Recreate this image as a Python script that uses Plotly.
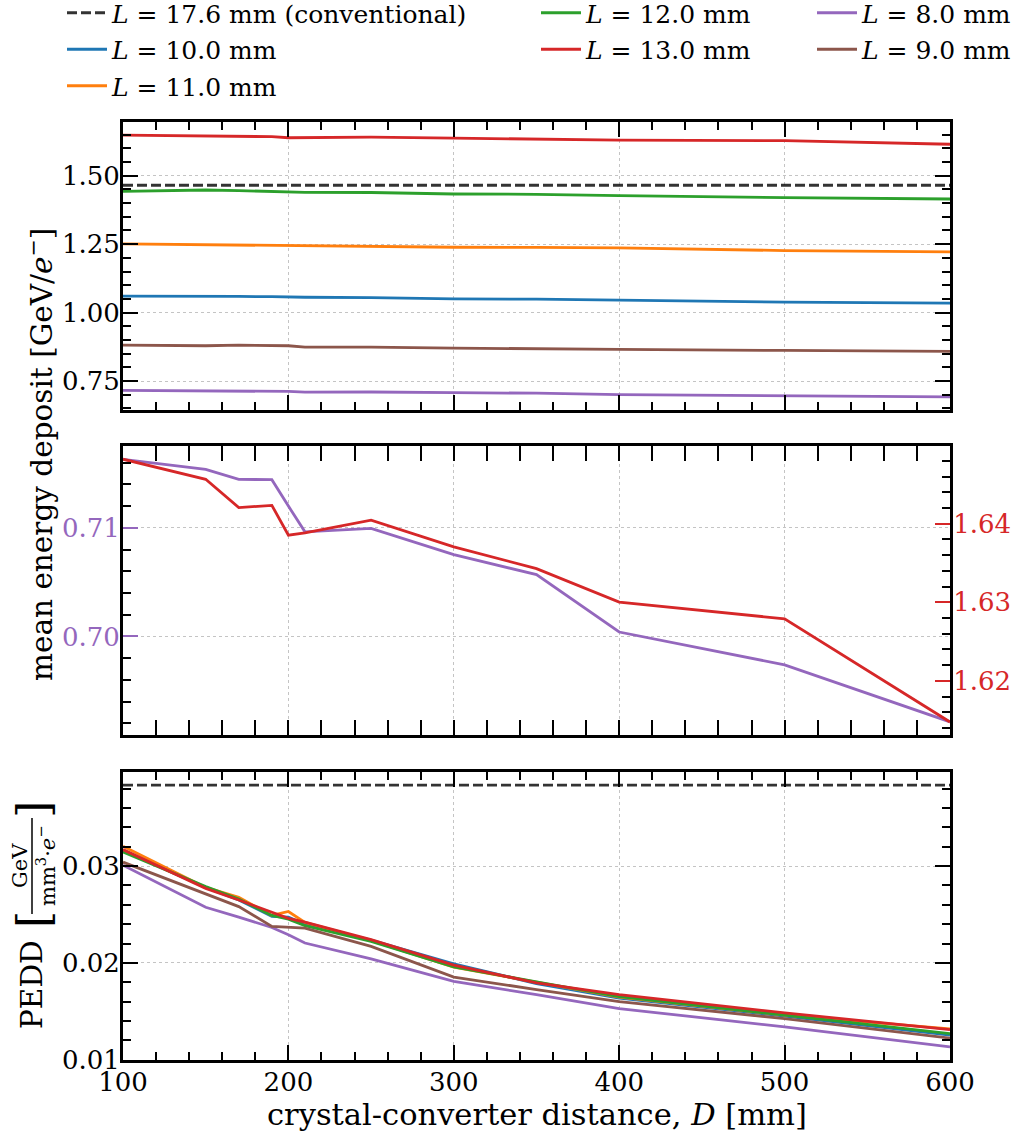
import plotly.graph_objects as go

# ---------------- data ----------------
D = [100, 150, 170, 190, 200, 210, 250, 300, 350, 400, 500, 600]

E_conv = 1.465
E_L10 = [1.0600, 1.0612, 1.0590, 1.0580, 1.0563, 1.0560, 1.0550, 1.0503, 1.0490, 1.0454, 1.0381, 1.0345]
E_L11 = [1.2508, 1.2480, 1.2470, 1.2455, 1.2435, 1.2430, 1.2430, 1.2387, 1.2380, 1.2362, 1.2265, 1.2217]
E_L12 = [1.4429, 1.4477, 1.4455, 1.4410, 1.4392, 1.4390, 1.4385, 1.4331, 1.4320, 1.4270, 1.4198, 1.4149]
E_L13 = [1.64822, 1.64566, 1.64205, 1.64234, 1.63854, 1.63885, 1.64046, 1.63706, 1.63428, 1.63003, 1.62789, 1.61476]
E_L8 = [0.71630, 0.71538, 0.71446, 0.71443, 0.71200, 0.70963, 0.70994, 0.70754, 0.70569, 0.70041, 0.69739, 0.69214]
E_L9 = [0.8813, 0.8789, 0.8813, 0.8800, 0.8790, 0.8740, 0.8740, 0.8704, 0.8690, 0.8655, 0.8618, 0.8582]

P_conv = 0.03838
P_L10 = [0.03164, 0.02780, 0.02650, 0.02480, 0.02473, 0.02400, 0.02235, 0.01990, 0.01786, 0.01635, 0.01450, 0.01252]
P_L11 = [0.03205, 0.02780, 0.02678, 0.02490, 0.02531, 0.02418, 0.02230, 0.01955, 0.01800, 0.01645, 0.01460, 0.01317]
P_L12 = [0.03147, 0.02788, 0.02660, 0.02490, 0.02452, 0.02384, 0.02223, 0.01959, 0.01803, 0.01650, 0.01460, 0.01269]
P_L13 = [0.03171, 0.02770, 0.02650, 0.02520, 0.02460, 0.02421, 0.02240, 0.01976, 0.01793, 0.01672, 0.01483, 0.01310]
P_L8 = [0.03010, 0.02575, 0.02473, 0.02366, 0.02291, 0.02205, 0.02041, 0.01808, 0.01672, 0.01528, 0.01338, 0.01131]
P_L9 = [0.03041, 0.02712, 0.02582, 0.02377, 0.02366, 0.02360, 0.02171, 0.01853, 0.01724, 0.01600, 0.01424, 0.01221]

labels = {
    "conv": "<i>L</i> = 17.6 mm (conventional)",
    "10": "<i>L</i> = 10.0 mm",
    "11": "<i>L</i> = 11.0 mm",
    "12": "<i>L</i> = 12.0 mm",
    "13": "<i>L</i> = 13.0 mm",
    "8": "<i>L</i> = 8.0 mm",
    "9": "<i>L</i> = 9.0 mm",
}

# ---------------- style ----------------
BLUE, ORANGE, GREEN, RED, PURPLE, BROWN = "#1f77b4", "#ff7f0e", "#2ca02c", "#d62728", "#9467bd", "#8c564b"
CONV = "rgba(0,0,0,0.8)"
FONT = "DejaVu Serif"
LW = 2.8

W, H = 1019, 1134
L_, R_, T_, B_ = 123, 950, 122, 1060


def px(x):
    return (x - L_) / (R_ - L_)


def py(y):
    return (B_ - y) / (B_ - T_)


fig = go.Figure()

series = [
    ("conv", CONV, "legend", None, None),
    ("10", BLUE, "legend", E_L10, P_L10),
    ("11", ORANGE, "legend", E_L11, P_L11),
    ("12", GREEN, "legend2", E_L12, P_L12),
    ("13", RED, "legend2", E_L13, P_L13),
    ("8", PURPLE, "legend3", E_L8, P_L8),
    ("9", BROWN, "legend3", E_L9, P_L9),
]

for key, col, leg, e, p in series:
    if key == "conv":
        e = [E_conv] * len(D)
        p = [P_conv] * len(D)
        line = dict(color=col, width=LW, dash="10px,4px")
    else:
        line = dict(color=col, width=LW)
    fig.add_trace(go.Scatter(x=D, y=e, mode="lines", line=line, name=labels[key],
                             legend=leg, legendgroup=key, showlegend=True,
                             xaxis="x", yaxis="y"))
    fig.add_trace(go.Scatter(x=D, y=p, mode="lines", line=line, name=labels[key],
                             legendgroup=key, showlegend=False,
                             xaxis="x3", yaxis="y4"))

# middle panel (twin axes)
fig.add_trace(go.Scatter(x=D, y=E_L8, mode="lines", line=dict(color=PURPLE, width=LW),
                         showlegend=False, xaxis="x2", yaxis="y2"))
fig.add_trace(go.Scatter(x=D, y=E_L13, mode="lines", line=dict(color=RED, width=LW),
                         showlegend=False, xaxis="x2", yaxis="y3"))

dom_top = [py(410), 1]
dom_mid = [py(735), py(446)]
dom_bot = [0, py(772)]

GRID = "#c4c4c4"
TFS = 26
TICKF = dict(family=FONT, size=TFS, color="black")


def minor(dt, color="black"):
    return dict(ticks="inside", ticklen=8, tickwidth=1.5, tickcolor=color, dtick=dt, showgrid=False)


def xax(anchor, labels_on):
    return dict(domain=[0, 1], anchor=anchor, range=[100, 600], tick0=0, dtick=100,
                showline=True, linewidth=3, linecolor="black", mirror="allticks",
                ticks="inside", ticklen=15, tickwidth=1.5, tickcolor="black",
                showgrid=True, gridcolor=GRID, griddash="dot", gridwidth=1, zeroline=False,
                ticklabelstandoff=-3,
                showticklabels=labels_on, tickfont=TICKF, minor=minor(20))


def yax(anchor, domain, rng, dt, mdt, fmt=".2f", color="black", mirror="allticks"):
    return dict(domain=domain, anchor=anchor, range=rng, tick0=0, dtick=dt,
                showline=True, linewidth=3, linecolor="black", mirror=mirror,
                ticks="inside", ticklen=15, tickwidth=1.5, tickcolor=color,
                showgrid=True, gridcolor=GRID, griddash="dot", gridwidth=1, zeroline=False,
                ticklabelstandoff=-5,
                tickformat=fmt, tickfont=dict(family=FONT, size=TFS, color=color), minor=minor(mdt))


layout = dict(
    width=W, height=H,
    margin=dict(l=L_, r=W - R_, t=T_, b=H - B_, autoexpand=False),
    paper_bgcolor="white", plot_bgcolor="white",
    font=dict(family=FONT, color="black"),
    xaxis=xax("y", False),
    xaxis2=xax("y2", False),
    xaxis3=xax("y4", True),
    yaxis=yax("x", dom_top, [0.6443, 1.6960], 0.25, 0.05),
    yaxis2=yax("x2", dom_mid, [0.69093, 0.71753], 0.01, 0.002, color=PURPLE, mirror=False),
    yaxis3=dict(overlaying="y2", anchor="x2", side="right", range=[1.6131, 1.6499], tick0=0, dtick=0.01,
                showline=True, linewidth=3, linecolor="black",
                ticks="inside", ticklen=15, tickwidth=1.5, tickcolor=RED,
                showgrid=False, zeroline=False, tickformat=".2f", ticklabelstandoff=-5,
                tickfont=dict(family=FONT, size=TFS, color=RED), minor=minor(0.002)),
    yaxis4=yax("x3", dom_bot, [0.00996, 0.03973], 0.01, 0.002),
    showlegend=True,
)

legfont = dict(family=FONT, size=25, color="black")
for name, xl in [("legend", 62), ("legend2", 536), ("legend3", 812)]:
    layout[name] = dict(x=px(xl), xanchor="left", y=py(-10), yanchor="top", orientation="v",
                        font=legfont, bgcolor="rgba(0,0,0,0)", borderwidth=0,
                        tracegroupgap=1, itemwidth=40)

fig.update_layout(**layout)

ann = []
ann.append(dict(text="mean energy deposit [GeV/<i>e</i><sup>−</sup>]", textangle=-90,
                x=px(40), y=py(455), xref="paper", yref="paper", showarrow=False,
                xanchor="center", yanchor="middle", font=dict(family=FONT, size=29.5, color="black")))
ann.append(dict(text="crystal-converter distance, <i>D</i> [mm]",
                x=px(537), y=py(1114), xref="paper", yref="paper", showarrow=False,
                xanchor="center", yanchor="middle", font=dict(family=FONT, size=30.5, color="black")))
ann.append(dict(text="PEDD", textangle=-90, x=px(32), y=py(985), xref="paper", yref="paper",
                showarrow=False, xanchor="center", yanchor="middle",
                font=dict(family=FONT, size=29.5, color="black")))
ann.append(dict(text="[", textangle=-90, x=px(33), y=py(920), xref="paper", yref="paper",
                showarrow=False, xanchor="center", yanchor="middle",
                font=dict(family=FONT, size=44, color="black")))
ann.append(dict(text="]", textangle=-90, x=px(33), y=py(810), xref="paper", yref="paper",
                showarrow=False, xanchor="center", yanchor="middle",
                font=dict(family=FONT, size=44, color="black")))
ann.append(dict(text="GeV", textangle=-90, x=px(20), y=py(866), xref="paper", yref="paper",
                showarrow=False, xanchor="center", yanchor="middle",
                font=dict(family=FONT, size=21, color="black")))
ann.append(dict(text="mm<sup>3</sup>·<i>e</i><sup>−</sup>", textangle=-90, x=px(46), y=py(866), xref="paper", yref="paper",
                showarrow=False, xanchor="center", yanchor="middle",
                font=dict(family=FONT, size=21, color="black")))
fig.update_layout(annotations=ann)
fig.add_shape(type="line", xref="paper", yref="paper", x0=px(32), x1=px(32), y0=py(818), y1=py(914),
              line=dict(color="black", width=1.5))

fig.write_html("out.html", config={"displayModeBar": False},
               post_script="document.body.style.margin='0px';")
